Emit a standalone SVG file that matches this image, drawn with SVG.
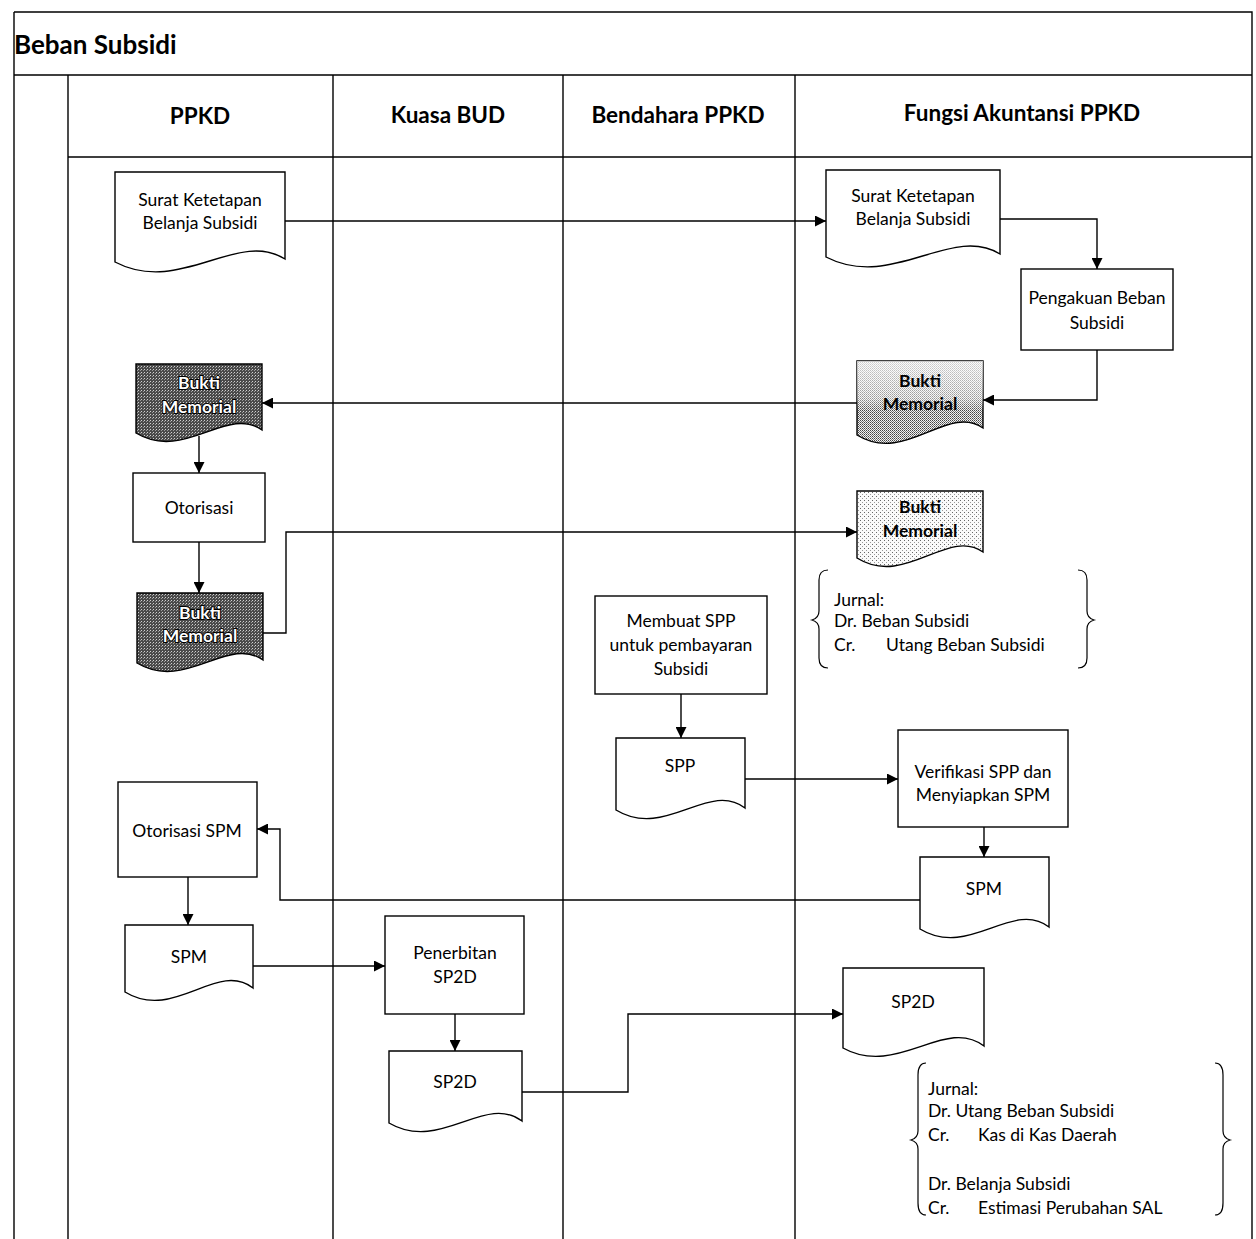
<svg xmlns="http://www.w3.org/2000/svg" width="1256" height="1239" viewBox="0 0 1256 1239">
  <style>
    .frame { fill: none; stroke: #000; stroke-width: 1.4; }
    .box { fill: #fff; stroke: #000; stroke-width: 1.4; }
    .conn { fill: none; stroke: #000; stroke-width: 1.4; }
    .brace { fill: none; stroke: #000; stroke-width: 1.2; }
    .title { font-family: Lato, "Open Sans", sans-serif; font-weight: bold; font-size: 26px; fill: #000; }
    .head { font-family: Lato, "Open Sans", sans-serif; font-weight: bold; font-size: 22.5px; fill: #000; text-anchor: middle; }
    .lbl { font-family: Lato, "Open Sans", sans-serif; font-size: 17.5px; fill: #000; text-anchor: middle; }
    .memo { font-family: Lato, "Open Sans", sans-serif; font-size: 17.5px; font-weight: bold; text-anchor: middle; }
    .memo-dark { fill: #fff; stroke: #000; stroke-width: 2; paint-order: stroke; }
    .memo-light { fill: #000; }
    .jrn { font-family: Lato, "Open Sans", sans-serif; font-size: 17.5px; fill: #000; }
  </style>
  <defs>
    <marker id="arrow" viewBox="0 0 10 10" refX="10" refY="5" markerWidth="11" markerHeight="11" markerUnits="userSpaceOnUse" orient="auto">
      <path d="M0,0 L10,5 L0,10 z" fill="#000"/>
    </marker>
    <!-- stipple textures for the memorial vouchers -->
    <pattern id="stippleDark" width="3" height="3" patternUnits="userSpaceOnUse">
      <rect width="3" height="3" fill="#4a4a4a"/>
      <rect width="1" height="1" fill="#d0d0d0"/>
      <rect x="2" y="1" width="1" height="1" fill="#9a9a9a"/>
    </pattern>
    <pattern id="stippleMid" width="2" height="2" patternUnits="userSpaceOnUse">
      <rect width="2" height="2" fill="#f2f2f2"/>
      <rect width="1" height="1" fill="#444"/>
      <rect x="1" y="1" width="1" height="1" fill="#777"/>
    </pattern>
    <pattern id="stippleLight" width="4" height="4" patternUnits="userSpaceOnUse">
      <rect width="4" height="4" fill="#fafafa"/>
      <rect width="1" height="1" fill="#666"/>
      <rect x="2" y="2" width="1" height="1" fill="#999"/>
    </pattern>
    <linearGradient id="fadeTop" x1="0" y1="0" x2="0" y2="1">
      <stop offset="0" stop-color="#fff" stop-opacity="0.75"/>
      <stop offset="0.45" stop-color="#fff" stop-opacity="0.45"/>
      <stop offset="0.6" stop-color="#fff" stop-opacity="0"/>
    </linearGradient>
  </defs>

  <!-- swimlane frame -->
  <g id="lanes">
    <path class="frame" d="M14,12 H1252 V1239 M14,12 V1239 M14,75 H1252 M68,157 H1252"/>
    <path class="frame" d="M68,75 V1239 M333,75 V1239 M563,75 V1239 M795,75 V1239"/>
    <text class="title" x="14" y="54">Beban Subsidi</text>
    <text class="head" x="200" y="124">PPKD</text>
    <text class="head" x="448" y="123">Kuasa BUD</text>
    <text class="head" x="678" y="123">Bendahara PPKD</text>
    <text class="head" x="1022" y="121">Fungsi Akuntansi PPKD</text>
  </g>

  <!-- connectors -->
  <g id="connectors">
    <path class="conn" d="M285,221 H826" marker-end="url(#arrow)"/>
    <path class="conn" d="M1000,219 H1097 V269" marker-end="url(#arrow)"/>
    <path class="conn" d="M1097,350 V400 H983" marker-end="url(#arrow)"/>
    <path class="conn" d="M857,403 H262" marker-end="url(#arrow)"/>
    <path class="conn" d="M199,436 V473" marker-end="url(#arrow)"/>
    <path class="conn" d="M199,542 V593" marker-end="url(#arrow)"/>
    <path class="conn" d="M263,633 H286 V532 H857" marker-end="url(#arrow)"/>
    <path class="conn" d="M681,694 V738" marker-end="url(#arrow)"/>
    <path class="conn" d="M745,779 H898" marker-end="url(#arrow)"/>
    <path class="conn" d="M984,827 V857" marker-end="url(#arrow)"/>
    <path class="conn" d="M920,900 H280 V829 H257" marker-end="url(#arrow)"/>
    <path class="conn" d="M188,877 V925" marker-end="url(#arrow)"/>
    <path class="conn" d="M253,966 H385" marker-end="url(#arrow)"/>
    <path class="conn" d="M455,1014 V1051" marker-end="url(#arrow)"/>
    <path class="conn" d="M522,1092 H628 V1014 H843" marker-end="url(#arrow)"/>
  </g>

  <!-- PPKD lane -->
  <g id="sk-ppkd">
    <path class="box" d="M115,172 H285 V259 C237,229 180,296 115,262 Z"/>
    <text class="lbl" x="200" y="206">Surat Ketetapan</text>
    <text class="lbl" x="200" y="229">Belanja Subsidi</text>
  </g>
  <g id="bm-ppkd-1">
    <path class="box" style="fill:url(#stippleDark)" d="M136,364 H262 V430 C227,405 184,462 136,433 Z"/>
    <text class="memo memo-dark" x="199" y="389">Bukti</text>
    <text class="memo memo-dark" x="199" y="413">Memorial</text>
  </g>
  <g id="otorisasi">
    <rect class="box" x="133" y="473" width="132" height="69"/>
    <text class="lbl" x="199" y="514">Otorisasi</text>
  </g>
  <g id="bm-ppkd-2">
    <path class="box" style="fill:url(#stippleDark)" d="M137,593 H263 V660 C228,635 185,692 137,663 Z"/>
    <text class="memo memo-dark" x="200" y="619">Bukti</text>
    <text class="memo memo-dark" x="200" y="642">Memorial</text>
  </g>
  <g id="otorisasi-spm">
    <rect class="box" x="118" y="782" width="139" height="95"/>
    <text class="lbl" x="187" y="837">Otorisasi SPM</text>
  </g>
  <g id="spm-ppkd">
    <path class="box" d="M125,925 H253 V988 C217,960 174,1022 125,992 Z"/>
    <text class="lbl" x="189" y="963">SPM</text>
  </g>

  <!-- Kuasa BUD lane -->
  <g id="penerbitan-sp2d">
    <rect class="box" x="385" y="916" width="139" height="98"/>
    <text class="lbl" x="455" y="959">Penerbitan</text>
    <text class="lbl" x="455" y="983">SP2D</text>
  </g>
  <g id="sp2d-bud">
    <path class="box" d="M389,1051 H522 V1121 C485,1093 440,1153 389,1123 Z"/>
    <text class="lbl" x="455" y="1088">SP2D</text>
  </g>

  <!-- Bendahara PPKD lane -->
  <g id="membuat-spp">
    <rect class="box" x="595" y="596" width="172" height="98"/>
    <text class="lbl" x="681" y="627">Membuat SPP</text>
    <text class="lbl" x="681" y="651">untuk pembayaran</text>
    <text class="lbl" x="681" y="675">Subsidi</text>
  </g>
  <g id="spp">
    <path class="box" d="M616,738 H745 V808 C709,780 665,840 616,810 Z"/>
    <text class="lbl" x="680" y="772">SPP</text>
  </g>

  <!-- Fungsi Akuntansi PPKD lane -->
  <g id="sk-fungsi">
    <path class="box" d="M826,170 H1000 V254 C951,224 892,291 826,257 Z"/>
    <text class="lbl" x="913" y="202">Surat Ketetapan</text>
    <text class="lbl" x="913" y="225">Belanja Subsidi</text>
  </g>
  <g id="pengakuan-beban">
    <rect class="box" x="1021" y="269" width="152" height="81"/>
    <text class="lbl" x="1097" y="304">Pengakuan Beban</text>
    <text class="lbl" x="1097" y="329">Subsidi</text>
  </g>
  <g id="bm-fungsi-1">
    <path class="box" style="fill:url(#stippleMid)" d="M857,361 H983 V428 C948,403 905,465 857,435 Z"/>
    <path fill="url(#fadeTop)" d="M857,361 H983 V428 C948,403 905,465 857,435 Z"/>
    <text class="memo memo-light" x="920" y="387">Bukti</text>
    <text class="memo memo-light" x="920" y="410">Memorial</text>
  </g>
  <g id="bm-fungsi-2">
    <path class="box" style="fill:url(#stippleLight)" d="M857,491 H983 V552 C948,527 905,588 857,558 Z"/>
    <text class="memo memo-light" x="920" y="513">Bukti</text>
    <text class="memo memo-light" x="920" y="537">Memorial</text>
  </g>
  <g id="jurnal-beban">
    <path class="brace" d="M828,570 Q819,570 819,580 V611 Q819,618 812,620 Q819,622 819,629 V658 Q819,668 828,668"/>
    <path class="brace" d="M1078,570 Q1087,570 1087,580 V611 Q1087,618 1094,620 Q1087,622 1087,629 V658 Q1087,668 1078,668"/>
    <text class="jrn" x="834" y="606">Jurnal:</text>
    <text class="jrn" x="834" y="627">Dr. Beban Subsidi</text>
    <text class="jrn" x="834" y="651">Cr.</text>
    <text class="jrn" x="886" y="651">Utang Beban Subsidi</text>
  </g>
  <g id="verifikasi-spp">
    <rect class="box" x="898" y="730" width="170" height="97"/>
    <text class="lbl" x="983" y="778">Verifikasi SPP dan</text>
    <text class="lbl" x="983" y="801">Menyiapkan SPM</text>
  </g>
  <g id="spm-fungsi">
    <path class="box" d="M920,857 H1049 V927 C1013,899 969,959 920,929 Z"/>
    <text class="lbl" x="984" y="895">SPM</text>
  </g>
  <g id="sp2d-fungsi">
    <path class="box" d="M843,968 H984 V1046 C945,1016 897,1078 843,1048 Z"/>
    <text class="lbl" x="913" y="1008">SP2D</text>
  </g>
  <g id="jurnal-belanja">
    <path class="brace" d="M926,1063 Q918,1063 918,1075 V1131 Q918,1138 911,1140 Q918,1142 918,1149 V1203 Q918,1215 926,1215"/>
    <path class="brace" d="M1215,1063 Q1223,1063 1223,1075 V1131 Q1223,1138 1230,1140 Q1223,1142 1223,1149 V1203 Q1223,1215 1215,1215"/>
    <text class="jrn" x="928" y="1095">Jurnal:</text>
    <text class="jrn" x="928" y="1117">Dr. Utang Beban Subsidi</text>
    <text class="jrn" x="928" y="1141">Cr.</text>
    <text class="jrn" x="978" y="1141">Kas di Kas Daerah</text>
    <text class="jrn" x="928" y="1190">Dr. Belanja Subsidi</text>
    <text class="jrn" x="928" y="1214">Cr.</text>
    <text class="jrn" x="978" y="1214">Estimasi Perubahan SAL</text>
  </g>
</svg>
